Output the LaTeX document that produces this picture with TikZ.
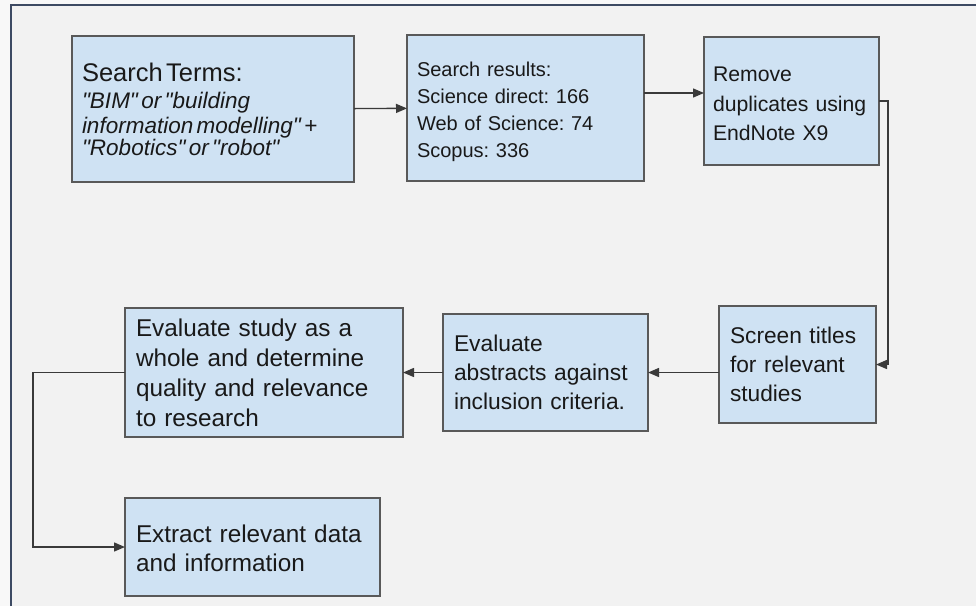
\documentclass[tikz,border=0pt]{standalone}
\usepackage{fontspec}
\newfontfamily\arialfont{Liberation Sans}
\usetikzlibrary{shapes,arrows,calc,arrows.meta}
\definecolor{boxfill}{HTML}{CFE2F3}
\definecolor{boxline}{HTML}{595959}
\definecolor{flowline}{HTML}{3A3A3A}
\definecolor{pagebg}{HTML}{F2F2F2}
\definecolor{stripbg}{HTML}{F8F8F8}
\definecolor{framec}{HTML}{3D4A63}
\tikzset{
  stage/.style={draw=boxline, fill=boxfill, line width=1.4pt, rectangle,
    align=left, inner xsep=10pt, inner ysep=0pt, outer sep=0pt,
    text=black!90},
  flow/.style={draw=flowline, line width=1.4pt,
    -{Triangle[length=11pt,width=9pt]}}
}

\begin{document}
\arialfont\frenchspacing
\begin{tikzpicture}[x=1pt,y=-1pt]
            \useasboundingbox (0,0) rectangle (976,606);
            \fill[stripbg] (0,0) rectangle (976,606);
            \fill[pagebg] (11,5) rectangle (976,606);
            \draw[framec, line width=1.5pt] (11,606) -- (11,5) -- (976,5);

            \draw (213,109) node[stage, text width=262pt, minimum height=146pt] (terms)
              {\fontsize{25.5}{27}\selectfont Search Terms:\\[2pt]
               \fontsize{22.5}{25}\selectfont\itshape "BIM" or "building\\
               information modelling" +\\ "Robotics" or "robot"};
            \draw (525.5,108) node[stage, text width=217pt, minimum height=146pt,
              font=\fontsize{20}{27}\selectfont] (results)
              {\rule{0pt}{23pt}Search results:\\ Science direct: 166\\ Web of Science: 74\\ Scopus: 336};
            \draw (791.5,101) node[stage, text width=157pt, inner xsep=9pt, minimum height=128pt,
              font=\fontsize{21.2}{29.5}\selectfont] (dup)
              {\rule{0pt}{21pt}Remove\\ duplicates using\\ EndNote X9};
            \draw (797.5,364.5) node[stage, text width=135pt, inner xsep=11pt, minimum height=117pt,
              font=\fontsize{22.7}{29}\selectfont] (screen)
              {Screen titles\\ for relevant\\ studies};
            \draw (545.5,372.5) node[stage, text width=183pt, inner xsep=11pt, minimum height=117pt,
              font=\fontsize{22.8}{29}\selectfont] (abstracts)
              {Evaluate\\ abstracts against\\ inclusion criteria.};
            \draw (264,372.5) node[stage, text width=256pt, inner xsep=11pt, minimum height=129pt,
              font=\fontsize{24.3}{30}\selectfont] (study)
              {Evaluate study as a\\ whole and determine\\ quality and relevance\\ to research};
            \draw (252.5,547) node[stage, text width=233pt, inner xsep=11pt, minimum height=98pt,
              font=\fontsize{24.3}{29}\selectfont] (extract)
              {\rule{0pt}{20pt}Extract relevant data\\ and information};

            \draw[flow] (terms) -- (results);
            \draw[flow] ([yshift=15pt]results.east) -- ([yshift=8pt]dup.west);
            \draw[flow] (screen.west |- abstracts.east) -- (abstracts.east);
            \draw[flow] (abstracts) -- (study);
            \draw[flow] (dup.east) -- ++(9,0) |- (screen.east);
            \draw[flow] (study.west) -- ++(-92,0) |- (extract.west);
        \end{tikzpicture}
\end{document}
